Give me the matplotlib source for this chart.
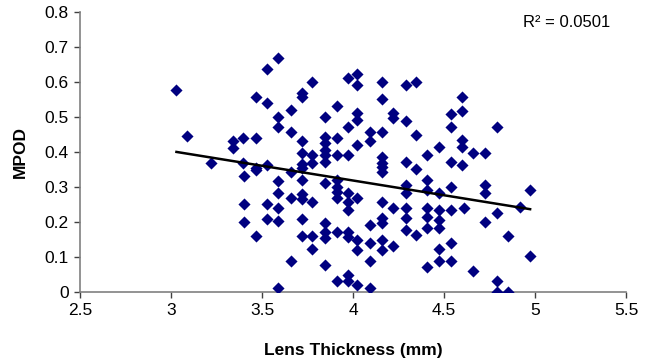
import numpy as np
import matplotlib
matplotlib.use("Agg")
import matplotlib.pyplot as plt

plt.rcParams['font.family'] = ['Liberation Sans', 'DejaVu Sans']

# lens thickness (mm) and MPOD
lens_thickness = [
    3.03, 3.086, 3.218, 3.34, 3.34,
    3.59, 3.53, 3.467, 3.53, 3.718, 3.718, 3.66, 3.59, 3.59, 3.66, 3.72, 3.72, 3.72, 3.72,
    3.397, 3.467, 3.397, 3.467, 3.467, 3.40, 3.53, 3.59, 3.59, 3.66, 3.66, 3.72, 3.72, 3.72,
    3.40, 3.53, 3.59, 3.53, 3.59, 3.40, 3.467, 3.72, 3.72, 3.66, 3.59,
    3.776, 3.97, 4.02, 4.02, 3.91, 3.846, 3.97, 4.02, 4.02,
    3.846, 3.91, 3.846, 3.846, 3.846, 3.846, 3.776, 3.776, 3.91, 3.97, 4.02,
    3.846, 3.91, 3.91, 3.91, 3.91, 3.97, 3.97, 3.97, 4.02, 3.776,
    3.776, 3.846, 3.846, 3.846, 3.91, 3.97, 3.97, 4.02, 4.02, 3.776, 3.846, 3.91, 3.97, 3.97, 4.02,
    4.157, 4.29, 4.346, 4.157, 4.22, 4.22, 4.29, 4.346, 4.093, 4.093, 4.157,
    4.157, 4.157, 4.157, 4.157, 4.29, 4.346, 4.29, 4.29, 4.157, 4.22, 4.29, 4.29,
    4.093, 4.157, 4.157, 4.29, 4.346, 4.093, 4.157, 4.157, 4.22, 4.093, 4.093,
    4.597, 4.537, 4.597, 4.537, 4.474, 4.597, 4.597, 4.657, 4.408, 4.537, 4.597,
    4.408, 4.408, 4.474, 4.537, 4.408, 4.474, 4.537, 4.61, 4.408, 4.408, 4.474, 4.474,
    4.474, 4.537, 4.408, 4.474, 4.537, 4.657,
    4.79, 4.725, 4.725, 4.725, 4.973, 4.92, 4.79, 4.725, 4.85, 4.973, 4.79, 4.79, 4.85,
]
mpod = [
    0.577, 0.447, 0.368, 0.432, 0.41,
    0.669, 0.636, 0.558, 0.539, 0.568, 0.556, 0.52, 0.499, 0.47, 0.458, 0.43, 0.396, 0.366, 0.353,
    0.439, 0.439, 0.368, 0.353, 0.349, 0.33, 0.363, 0.318, 0.284, 0.344, 0.268, 0.32, 0.28, 0.265,
    0.25, 0.25, 0.239, 0.208, 0.203, 0.2, 0.161, 0.208, 0.161, 0.089, 0.01,
    0.601, 0.61, 0.623, 0.592, 0.53, 0.499, 0.472, 0.51, 0.49,
    0.444, 0.441, 0.425, 0.405, 0.39, 0.372, 0.39, 0.368, 0.39, 0.39, 0.42,
    0.31, 0.32, 0.30, 0.287, 0.268, 0.284, 0.258, 0.234, 0.268, 0.258,
    0.161, 0.196, 0.172, 0.153, 0.172, 0.172, 0.158, 0.149, 0.12, 0.122, 0.077, 0.03, 0.049, 0.03, 0.02,
    0.601, 0.591, 0.601, 0.55, 0.51, 0.496, 0.489, 0.449, 0.458, 0.43, 0.458,
    0.387, 0.368, 0.358, 0.344, 0.37, 0.35, 0.306, 0.282, 0.258, 0.239, 0.239, 0.21,
    0.191, 0.21, 0.196, 0.177, 0.163, 0.139, 0.149, 0.12, 0.13, 0.089, 0.01,
    0.558, 0.509, 0.518, 0.47, 0.413, 0.434, 0.413, 0.398, 0.39, 0.37, 0.363,
    0.32, 0.291, 0.284, 0.30, 0.239, 0.234, 0.234, 0.239, 0.215, 0.182, 0.206, 0.182,
    0.122, 0.141, 0.07, 0.089, 0.089, 0.061,
    0.472, 0.396, 0.306, 0.282, 0.291, 0.244, 0.225, 0.201, 0.16, 0.103, 0.03, 0.0, 0.0,
]
r2_label = "R² = 0.0501"

x = np.array(lens_thickness)
y = np.array(mpod)

fig = plt.figure(figsize=(6.53, 3.63), dpi=100)
ax = fig.add_axes([0.1225, 0.1956, 0.8362, 0.7714])

ax.scatter(x, y, marker='D', s=38, color='#000080', linewidths=0, zorder=3)

# linear trend line over the data range
k, b = np.polyfit(x, y, 1)
xs = np.array([x.min(), x.max()])
ax.plot(xs, k * xs + b, color='black', lw=1.8, zorder=4)

ax.set_xlim(2.5, 5.5)
ax.set_ylim(0, 0.8)
ax.set_xticks(np.arange(2.5, 5.51, 0.5))
ax.set_xticklabels(['2.5', '3', '3.5', '4', '4.5', '5', '5.5'])
ax.set_yticks(np.arange(0, 0.81, 0.1))
ax.set_yticklabels(['0', '0.1', '0.2', '0.3', '0.4', '0.5', '0.6', '0.7', '0.8'])

for s in ['top', 'right']:
    ax.spines[s].set_visible(False)
for s in ['left', 'bottom']:
    ax.spines[s].set_color('#808080')
    ax.spines[s].set_linewidth(1.2)
ax.tick_params(axis='both', labelsize=12.5, length=4, width=1, color='#404040', pad=4)

ax.set_xlabel('Lens Thickness (mm)', fontsize=12.5, fontweight='bold', labelpad=18)
ax.set_ylabel('MPOD', fontsize=12.5, fontweight='bold', labelpad=12)

ax.text(0.892, 0.962, r2_label, transform=ax.transAxes, fontsize=12, ha='center', va='center')

fig.savefig('out.png', dpi=100)
